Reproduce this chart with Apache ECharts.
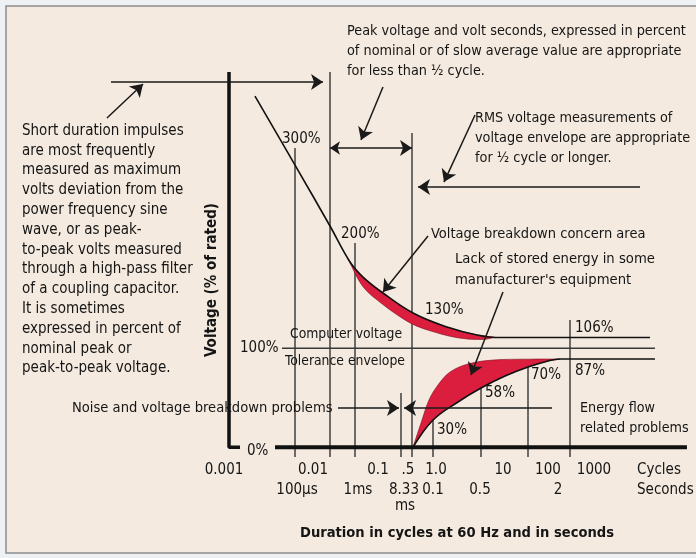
<!DOCTYPE html>
<html><head><meta charset="utf-8">
<script src="https://cdn.jsdelivr.net/npm/echarts@6/dist/echarts.min.js"></script>
<style>html,body{margin:0;padding:0;background:#edf1f4}#c{width:696px;height:558px}</style>
</head><body><div id="c"></div>
<script>
// ---------- DATA (x: schematic log10 of cycles, y: % of rated) ----------
const upperCurve = [[-2.616,354.7],[-2.024,285.0],[-1.507,223.4],[-1.211,187.0],[-1.019,171.8],[-0.724,155.7],[-0.280,135.5],[0.223,121.3],[0.666,113.3],[1.006,110.7],[3.224,110.7]];
const upperRedTop = [[-1.241,190.0],[-1.211,187.0],[-1.019,171.8],[-0.724,155.7],[-0.280,135.5],[0.223,121.3],[0.666,113.3],[0.932,111.0]];
const upperRedBottom = [[0.932,111.0],[0.755,108.8],[0.370,110.6],[-0.029,117.6],[-0.280,124.0],[-0.517,133.8],[-0.724,144.0],[-1.019,162.0],[-1.241,190.0]];
const lowerCurve = [[-0.280,0],[0.016,27.4],[0.385,45.6],[0.725,59.7],[1.080,71.8],[1.420,80.9],[1.716,87.0],[1.893,89.0],[3.297,89.0]];
const lowerRedTop = [[-0.280,0],[-0.147,27.4],[-0.044,47.6],[0.089,62.8],[0.267,75.9],[0.533,84.0],[0.903,88.0],[1.420,88.9],[1.893,89.0]];
const nominalLine = [[-2.217,100],[3.297,100]];
const refLineX = [-2.024,-1.507,-1.137,-0.457,-0.295,0.016,0.725,1.420,2.041];
const refLineTop = [302.2,378.9,206.2,54.7,317.3,34.4,67.8,82.9,128.4];
const refLineBottom = -10;
const xAxisLine = [[-2.320,0],[3.770,0]];
const yAxisLine = [[-3,378.9],[-3,0],[-2.837,0]];
// annotation arrows: [from, to, doubleHeaded]
const arrows = [
  [[-4.744,368.8],[-1.610,368.8],false],
  [[-4.804,332.5],[-4.271,366.8],false],
  [[-0.724,363.8],[-1.049,310.3],false],
  [[-1.507,302.2],[-0.295,302.2],true],
  [[0.637,335.5],[0.178,267.8],false],
  [[3.076,262.8],[-0.206,262.8],false],
  [[-0.058,213.3],[-0.724,156.7],false],
  [[1.050,156.7],[0.577,72.8],false],
  [[-1.389,39.5],[-0.487,39.5],false],
  [[1.775,39.5],[-0.413,39.5],false]
];
const cycleLabels = ['0.001','0.01','0.1','.5','1.0','10','100','1000'];
const secondLabels = ['100µs','1ms','8.33','0.1','0.5','2'];
const pctLabels = ['300%','200%','130%','106%','87%','70%','58%','30%','100%','0%'];
const leftNote = ['Short duration impulses','are most frequently','measured as maximum','volts deviation from the','power frequency sine','wave, or as peak-','to-peak volts measured','through a high-pass filter','of a coupling capacitor.','It is sometimes','expressed in percent of','nominal peak or','peak-to-peak voltage.'];
const peakNote = ['Peak voltage and volt seconds, expressed in percent','of nominal or of slow average value are appropriate','for less than ½ cycle.'];
const rmsNote = ['RMS voltage measurements of','voltage envelope are appropriate','for ½ cycle or longer.'];

// ---------- LAYOUT ----------
const FONT = "'Liberation Sans Narrow','DejaVu Sans Condensed',sans-serif";
const F = (s, w) => (w ? w + ' ' : '') + s + 'px ' + FONT;
const cyclePx = [224,313,378,408,436,503,548,594];
const secondPx = [297,358,404,433,480,558];
const pctPos = [[282,139],[341,234],[425,310],[575,328],[575,371],[531,375],[485,393],[437,430],[240,348],[247,451]];
const TXT = '#151515';

const g = [];
g.push({type:'rect', z:-100, shape:{x:6,y:6,width:700,height:547}, style:{fill:'#f4eadf', stroke:'#8c8c8c', lineWidth:1.5}});
function t(x,y,text,opt){
  opt = opt || {};
  g.push({type:'text', z:100, x:x, y:y, rotation: opt.rot || 0,
    style:{text:text, font:F(opt.size||15, opt.weight), fill:TXT,
      textAlign:opt.align||'left', textVerticalAlign:'middle', align:opt.align||'left', verticalAlign:'middle'}});
}
leftNote.forEach((s,i)=>t(22,131+i*19.8,s));
peakNote.forEach((s,i)=>t(347,31+i*20,s,{size:14.3}));
rmsNote.forEach((s,i)=>t(475,118+i*20,s,{size:14.3}));
pctLabels.forEach((s,i)=>t(pctPos[i][0],pctPos[i][1],s));
t(431,234,'Voltage breakdown concern area',{size:14.5});
t(455,259,'Lack of stored energy in some',{size:14.7});
t(455,280,"manufacturer's equipment",{size:14.7});
t(290,334,'Computer voltage',{size:13.8});
t(285,361,'Tolerance envelope',{size:13.8});
t(72,408,'Noise and voltage breakdown problems',{size:14.6});
t(580,408,'Energy flow',{size:14.2});
t(580,428,'related problems',{size:14.2});
cycleLabels.forEach((s,i)=>t(cyclePx[i],470,s,{align:'center'}));
secondLabels.forEach((s,i)=>t(secondPx[i],490,s,{align:'center'}));
t(405,506,'ms',{align:'center'});
t(637,470,'Cycles');
t(637,490,'Seconds');
t(457,533,'Duration in cycles at 60 Hz and in seconds',{align:'center',weight:'bold',size:14.6});
t(212,280,'Voltage (% of rated)',{align:'center',weight:'bold',size:15,rot:Math.PI/2});

function polySeries(points, fill){
  return {type:'custom', clip:false, z:3, data:[points[0]],
    renderItem:function(params, api){
      return {type:'polygon', shape:{points:points.map(p=>api.coord(p)), smooth:0.35},
        style:{fill:fill, stroke:'#7a1020', lineWidth:0.6}};
    }};
}

const series = [];
series.push(polySeries(upperRedTop.concat(upperRedBottom), '#dc1e3e'));
series.push(polySeries(lowerRedTop.concat(lowerCurve.slice(0,8).reverse()), '#dc1e3e'));
const lineStyle = (w,c)=>({width:w, color:c});
series.push({type:'line', data:upperCurve, smooth:0.4, showSymbol:false, clip:false, z:4, lineStyle:lineStyle(1.6,'#111')});
series.push({type:'line', data:lowerCurve, smooth:0.4, showSymbol:false, clip:false, z:4, lineStyle:lineStyle(1.6,'#111')});
series.push({type:'line', data:nominalLine, showSymbol:false, clip:false, z:2, lineStyle:lineStyle(1.5,'#383838')});
series.push({type:'lines', coordinateSystem:'cartesian2d', clip:false, z:2, symbol:'none',
  lineStyle:{color:'#404040', width:1.5, opacity:1},
  data: refLineX.map((x,i)=>({coords:[[x,refLineBottom],[x,refLineTop[i]]]}))});
series.push({type:'line', data:xAxisLine, showSymbol:false, clip:false, z:5, lineStyle:lineStyle(4,'#111')});
series.push({type:'line', data:yAxisLine, showSymbol:false, clip:false, z:5, lineStyle:lineStyle(3.5,'#111')});
arrows.forEach(a=>{
  series.push({type:'lines', coordinateSystem:'cartesian2d', clip:false, z:6,
    symbol:[a[2]?'arrow':'none','arrow'], symbolSize:[10,12],
    lineStyle:{color:'#1a1a1a', width:1.5, opacity:1},
    data:[{coords:[a[0],a[1]]}]});
});

const chart = echarts.init(document.getElementById('c'), null, {renderer:'canvas'});
chart.setOption({
  backgroundColor:'#edf1f4',
  animation:false,
  grid:{left:229, top:71, width:460, height:487},
  xAxis:{type:'value', min:-3, max:3.8, show:false},
  yAxis:{type:'value', min:-112, max:380, show:false},
  graphic:{elements:g},
  series:series
});
</script></body></html>
